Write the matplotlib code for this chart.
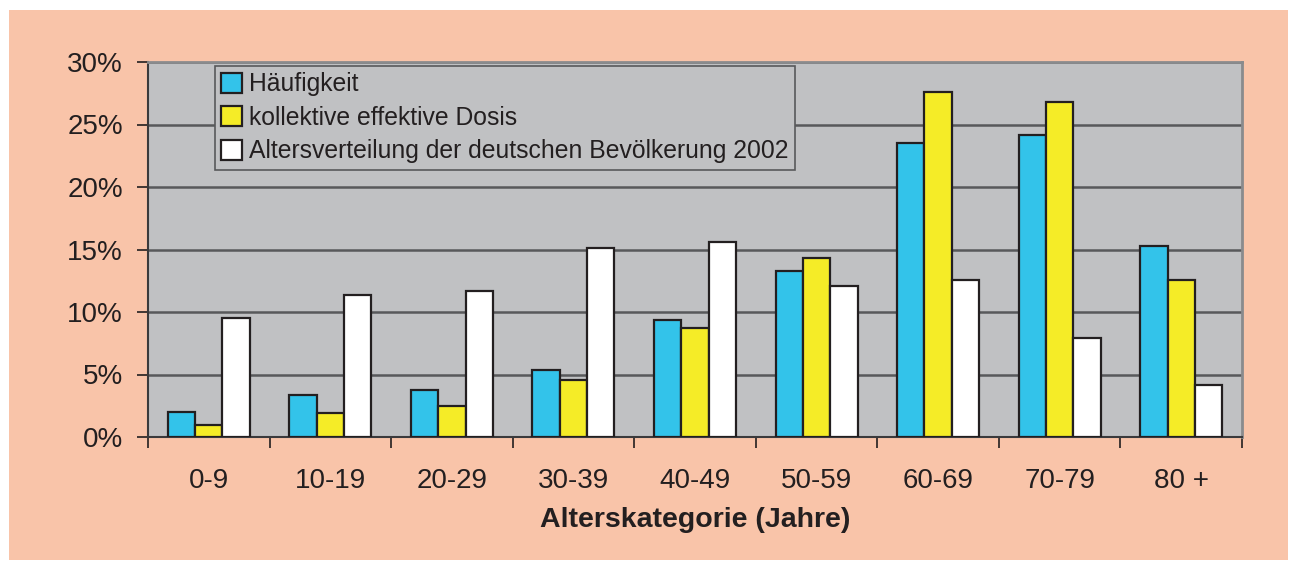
import matplotlib.pyplot as plt
import numpy as np
from matplotlib.patches import Rectangle
from matplotlib.ticker import FixedLocator

plt.rcParams['font.family'] = ['Liberation Sans', 'DejaVu Sans']

# ---- data ----
categories = ["0-9", "10-19", "20-29", "30-39", "40-49", "50-59", "60-69", "70-79", "80 +"]
haeufigkeit = [2.0, 3.4, 3.8, 5.4, 9.4, 13.3, 23.5, 24.2, 15.3]
kollektive_dosis = [1.0, 1.9, 2.5, 4.6, 8.7, 14.3, 27.6, 26.8, 12.6]
altersverteilung = [9.5, 11.4, 11.7, 15.1, 15.6, 12.1, 12.6, 7.9, 4.2]
series_names = ["Häufigkeit", "kollektive effektive Dosis",
                "Altersverteilung der deutschen Bevölkerung 2002"]
yticks = [0, 5, 10, 15, 20, 25, 30]

# ---- colours ----
salmon = "#F9C4A9"
plot_grey = "#C0C1C3"
dark = "#231F20"
colors = ["#33C3EA", "#F5EC27", "#FFFFFF"]

fig = plt.figure(figsize=(12.92, 5.61), dpi=100)
fig.patch.set_facecolor("white")
fig.patches.append(Rectangle((9 / 1292, 1 - 560 / 561), 1279 / 1292, 550 / 561,
                             transform=fig.transFigure, facecolor=salmon,
                             edgecolor="none", zorder=-10))

ax = fig.add_axes([148 / 1292, 1 - 437 / 561, 1094 / 1292, 375 / 561])
ax.set_facecolor(plot_grey)

x = np.arange(len(categories))
w = 0.225
for i, (vals, c, name) in enumerate(zip([haeufigkeit, kollektive_dosis, altersverteilung],
                                        colors, series_names)):
    ax.bar(x + (i - 1) * w, vals, width=w, color=c, edgecolor=dark,
           linewidth=1.6, label=name, zorder=3)

ax.set_xlim(-0.5, len(categories) - 0.5)
ax.set_ylim(0, 30)
ax.set_yticks(yticks)
ax.set_yticklabels([f"{t}%" for t in yticks], fontsize=20, color=dark)
ax.yaxis.grid(True, color="#58595B", linewidth=1.8, zorder=1)
ax.set_axisbelow(True)

ax.set_xticks(x)
ax.set_xticklabels(categories, fontsize=20, color=dark)
ax.tick_params(axis="x", which="major", length=0, pad=22)
ax.xaxis.set_minor_locator(FixedLocator(np.arange(-0.5, len(categories), 1.0)))
ax.tick_params(axis="x", which="minor", length=8, width=1.2, color=dark)
ax.tick_params(axis="y", length=8, width=1.2, color=dark, pad=10)

ax.set_xlabel("Alterskategorie (Jahre)", fontsize=20.5, fontweight="bold",
              color=dark, labelpad=10)

for side in ["top", "right"]:
    ax.spines[side].set_color("#8A8B8D")
    ax.spines[side].set_linewidth(2)
for side in ["left", "bottom"]:
    ax.spines[side].set_color("#3A3A3C")
    ax.spines[side].set_linewidth(1.5)

leg = ax.legend(loc="upper left", bbox_to_anchor=(0.061, 0.99), fontsize=17.8,
                frameon=True, fancybox=False, facecolor=plot_grey,
                edgecolor="#58595B", framealpha=1, handlelength=0.85,
                handleheight=0.85, handletextpad=0.25, labelspacing=0.38,
                borderpad=0.27, borderaxespad=0)
leg.get_frame().set_linewidth(1.2)
for t in leg.get_texts():
    t.set_color(dark)

fig.savefig("out.png", dpi=100, facecolor=fig.get_facecolor())
